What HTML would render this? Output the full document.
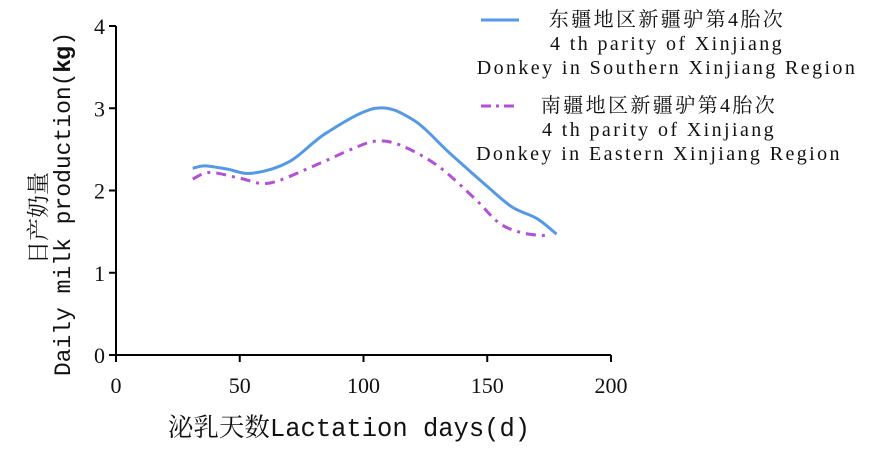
<!DOCTYPE html>
<html><head><meta charset="utf-8"><style>
body{margin:0;background:#fff;width:878px;height:449px;overflow:hidden}
text{font-family:"Liberation Serif","Noto Serif CJK SC",serif;fill:#111}
.mono{font-family:"Liberation Mono","Noto Serif CJK SC",monospace}
</style></head><body>
<svg id="chart" width="878" height="449">
<g id="axes"></g>
<g id="series"></g>
<text class="mono" x="349" y="436" font-size="25.5" text-anchor="middle">泌乳天数Lactation days(d)</text>
<text class="mono" transform="translate(46,218) rotate(-90)" font-size="23" text-anchor="middle">日产奶量</text>
<text class="mono" transform="translate(70,204) rotate(-90)" font-size="23" text-anchor="middle">Daily milk production(<tspan font-family="Liberation Sans" font-weight="bold">kg</tspan>)</text>
<g>
<line x1="481" y1="20" x2="519" y2="20" stroke="#5599E6" stroke-width="3"/>
<text x="667" y="26" font-size="20" letter-spacing="2.4" text-anchor="middle"><tspan x="667">东疆地区新疆驴第4胎次</tspan><tspan x="667" dy="24">4 th parity of Xinjiang</tspan><tspan x="667" dy="24">Donkey in Southern Xinjiang Region</tspan></text>
<line x1="481" y1="106" x2="519" y2="106" stroke="#B44FD8" stroke-width="3" stroke-dasharray="10,5,3,5"/>
<text x="659" y="112" font-size="20" letter-spacing="2.4" text-anchor="middle"><tspan x="659">南疆地区新疆驴第4胎次</tspan><tspan x="659" dy="24">4 th parity of Xinjiang</tspan><tspan x="659" dy="24">Donkey in Eastern Xinjiang Region</tspan></text>
</g>
</svg>
<script>
const xTicks=[0,50,100,150,200];
const yTicks=[0,1,2,3,4];
const southDays=[31,36,45,55,70,85,105,120,135,150,160,170,178];
const southVals=[2.27,2.30,2.26,2.21,2.35,2.70,3.00,2.86,2.45,2.05,1.80,1.66,1.47];
const eastDays=[31,38,50,62,80,95,105,115,130,145,155,165,175];
const eastVals=[2.14,2.22,2.15,2.09,2.30,2.50,2.60,2.55,2.30,1.90,1.60,1.48,1.45];
const X0=116,X1=611,Y0=355,Y1=26;
const sx=d=>X0+(d/200)*(X1-X0), sy=v=>Y0-(v/4)*(Y0-Y1);
const NS="http://www.w3.org/2000/svg";
const ax=document.getElementById('axes'), sg=document.getElementById('series');
function mk(t,a,p){const e=document.createElementNS(NS,t);for(const k in a)e.setAttribute(k,a[k]);p.appendChild(e);return e;}
let l=mk('line',{x1:X0,y1:Y0,x2:X1,y2:Y0,stroke:'#000','stroke-width':2},ax);


l=mk('line',{x1:X0,y1:Y0,x2:X0,y2:Y1,stroke:'#000','stroke-width':2},ax);


xTicks.forEach(t=>{const x=sx(t);
 const tk=mk('line',{x1:x,y1:Y0,x2:x,y2:Y0+7,stroke:'#000','stroke-width':2},ax);
 
 
 const tx=mk('text',{x:x,y:Y0+38,'font-size':22,'text-anchor':'middle'},ax);tx.textContent=t;
 
 });
yTicks.forEach(t=>{const y=sy(t);
 const tk=mk('line',{x1:X0-7,y1:y,x2:X0,y2:y,stroke:'#000','stroke-width':2},ax);
 
 
 const tx=mk('text',{x:X0-11,y:y+8,'font-size':22,'text-anchor':'end'},ax);tx.textContent=t;
 
 });
function path(xs,vs){const p=xs.map((d,i)=>[sx(d),sy(vs[i])]);let s='M'+p[0];
 for(let i=0;i<p.length-1;i++){const a=p[Math.max(i-1,0)],b=p[i],c=p[i+1],d=p[Math.min(i+2,p.length-1)];
  const c1=[b[0]+(c[0]-a[0])/6,b[1]+(c[1]-a[1])/6],c2=[c[0]-(d[0]-b[0])/6,c[1]-(d[1]-b[1])/6];
  s+=' C'+c1+' '+c2+' '+c;}return s;}
let p=mk('path',{d:path(southDays,southVals),fill:'none',stroke:'#5599E6','stroke-width':3},sg);


p=mk('path',{d:path(eastDays,eastVals),fill:'none',stroke:'#B44FD8','stroke-width':3,'stroke-dasharray':'10,6,3,6'},sg);


</script>
</body></html>
